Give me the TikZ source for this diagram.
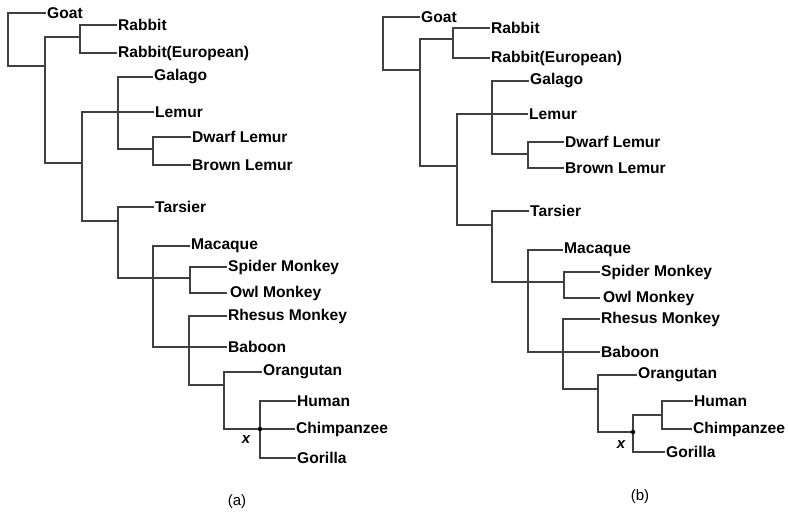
\documentclass[tikz,border=0pt]{standalone}
\usepackage{fontspec}
\setmainfont{Liberation Sans}
\begin{document}
\begin{tikzpicture}[x=1pt,y=-1pt,
  branch/.style={draw=black!75,line width=1.1pt},
  lab/.style={anchor=west,inner sep=1pt,font=\fontsize{15.6}{18}\selectfont\bfseries},
  captext/.style={inner sep=0pt,font=\fontsize{15}{18}\selectfont},
  xlab/.style={inner sep=0pt,font=\fontsize{15}{18}\selectfont\bfseries\itshape},
  jdot/.style={circle,fill=black,inner sep=0pt,minimum size=4.5pt}]
\useasboundingbox (0,0) rectangle (788,513);
% ---------------- tree (a) ----------------
\coordinate (ar)  at (8,40);
\coordinate (an1) at (45,66);
\coordinate (an2) at (80,37);
\coordinate (an3) at (82,163);
\coordinate (ag)  at (118,112);
\coordinate (ad)  at (153,149);
\coordinate (at)  at (118,221);
\coordinate (am)  at (153,278);
\coordinate (as)  at (190,278);
\coordinate (arh) at (189,347);
\coordinate (ao)  at (224,385);
\coordinate (ax)  at (260,429);
\node[lab] (goatA)   at (46,13)  {Goat};
\node[lab] (rabA)    at (117,25) {Rabbit};
\node[lab] (rabeA)   at (117,53) {Rabbit(European)};
\node[lab] (galA)    at (153,77) {Galago};
\node[lab] (lemA)    at (154,112) {Lemur};
\node[lab] (dwA)     at (191,137) {Dwarf Lemur};
\node[lab] (brA)     at (191,165) {Brown Lemur};
\node[lab] (tarA)    at (154,207) {Tarsier};
\node[lab] (macA)    at (190,246) {Macaque};
\node[lab] (spA)     at (227,267) {Spider Monkey};
\node[lab] (owA)     at (227,293) {\hspace{2pt}Owl Monkey};
\node[lab] (rhA)     at (227,316) {Rhesus Monkey};
\node[lab] (baA)     at (227,347) {Baboon};
\node[lab] (orA)     at (262,372) {Orangutan};
\node[lab] (huA)     at (296,401) {Human};
\node[lab] (chA)     at (295,429) {Chimpanzee};
\node[lab] (goA)     at (296,458) {Gorilla};
\node[xlab] (xA) at (246,440) {x};
\node[captext] (capA) at (237,502) {(a)};
\draw[branch] (ar) |- (goatA.west);
\draw[branch] (ar) |- (an1);
\draw[branch] (an1) |- (an2);
\draw[branch] (an2) |- (rabA.west);
\draw[branch] (an2) |- (rabeA.west);
\draw[branch] (an1) |- (an3);
\draw[branch] (an3) |- (ag);
\draw[branch] (ag) -- (lemA.west);
\draw[branch] (ag) |- (galA.west);
\draw[branch] (ag) |- (ad);
\draw[branch] (ad) |- (dwA.west);
\draw[branch] (ad) |- (brA.west);
\draw[branch] (an3) |- (at);
\draw[branch] (at) |- (tarA.west);
\draw[branch] (at) |- (am);
\draw[branch] (am) -- (as);
\draw[branch] (as) |- (spA.west);
\draw[branch] (as) |- (owA.west);
\draw[branch] (am) |- (macA.west);
\draw[branch] (am) |- (arh);
\draw[branch] (arh) -- (baA.west);
\draw[branch] (arh) |- (rhA.west);
\draw[branch] (arh) |- (ao);
\draw[branch] (ao) |- (orA.west);
\draw[branch] (ao) |- (ax);
\draw[branch] (ax) -- (chA.west);
\draw[branch] (ax) |- (huA.west);
\draw[branch] (ax) |- (goA.west);
\node[jdot] (axdot) at (ax) {};
% ---------------- tree (b) ----------------
\coordinate (br)  at (383,40);
\coordinate (bn1) at (420,70);
\coordinate (bn2) at (453,39);
\coordinate (bn3) at (457,166);
\coordinate (bg)  at (492,114);
\coordinate (bd)  at (528,154);
\coordinate (bt)  at (492,225);
\coordinate (bm)  at (528,282);
\coordinate (bs)  at (564,282);
\coordinate (brh) at (563,352);
\coordinate (bo)  at (598,389);
\coordinate (bx)  at (633,432);
\coordinate (bh)  at (662,415);
\node[lab] (goatB)   at (420,17)  {Goat};
\node[lab] (rabB)    at (490,28) {Rabbit};
\node[lab] (rabeB)   at (490,58) {Rabbit(European)};
\node[lab] (galB)    at (529,81) {Galago};
\node[lab] (lemB)    at (528,114) {Lemur};
\node[lab] (dwB)     at (564,142) {Dwarf Lemur};
\node[lab] (brB)     at (564,168) {Brown Lemur};
\node[lab] (tarB)    at (529,211) {Tarsier};
\node[lab] (macB)    at (563,250) {Macaque};
\node[lab] (spB)     at (600,272) {Spider Monkey};
\node[lab] (owB)     at (600,298) {\hspace{2pt}Owl Monkey};
\node[lab] (rhB)     at (600,319) {Rhesus Monkey};
\node[lab] (baB)     at (600,352) {Baboon};
\node[lab] (orB)     at (637,375) {Orangutan};
\node[lab] (huB)     at (693,401) {Human};
\node[lab] (chB)     at (692,429) {Chimpanzee};
\node[lab] (goB)     at (665,452) {Gorilla};
\node[xlab] (xB) at (621,445) {x};
\node[captext] (capB) at (640,497) {(b)};
\draw[branch] (br) |- (goatB.west);
\draw[branch] (br) |- (bn1);
\draw[branch] (bn1) |- (bn2);
\draw[branch] (bn2) |- (rabB.west);
\draw[branch] (bn2) |- (rabeB.west);
\draw[branch] (bn1) |- (bn3);
\draw[branch] (bn3) |- (bg);
\draw[branch] (bg) -- (lemB.west);
\draw[branch] (bg) |- (galB.west);
\draw[branch] (bg) |- (bd);
\draw[branch] (bd) |- (dwB.west);
\draw[branch] (bd) |- (brB.west);
\draw[branch] (bn3) |- (bt);
\draw[branch] (bt) |- (tarB.west);
\draw[branch] (bt) |- (bm);
\draw[branch] (bm) -- (bs);
\draw[branch] (bs) |- (spB.west);
\draw[branch] (bs) |- (owB.west);
\draw[branch] (bm) |- (macB.west);
\draw[branch] (bm) |- (brh);
\draw[branch] (brh) -- (baB.west);
\draw[branch] (brh) |- (rhB.west);
\draw[branch] (brh) |- (bo);
\draw[branch] (bo) |- (orB.west);
\draw[branch] (bo) |- (bx);
\draw[branch] (bx) |- (goB.west);
\draw[branch] (bx) |- (bh);
\draw[branch] (bh) |- (huB.west);
\draw[branch] (bh) |- (chB.west);
\node[jdot] (bxdot) at (bx) {};
\end{tikzpicture}
\end{document}
